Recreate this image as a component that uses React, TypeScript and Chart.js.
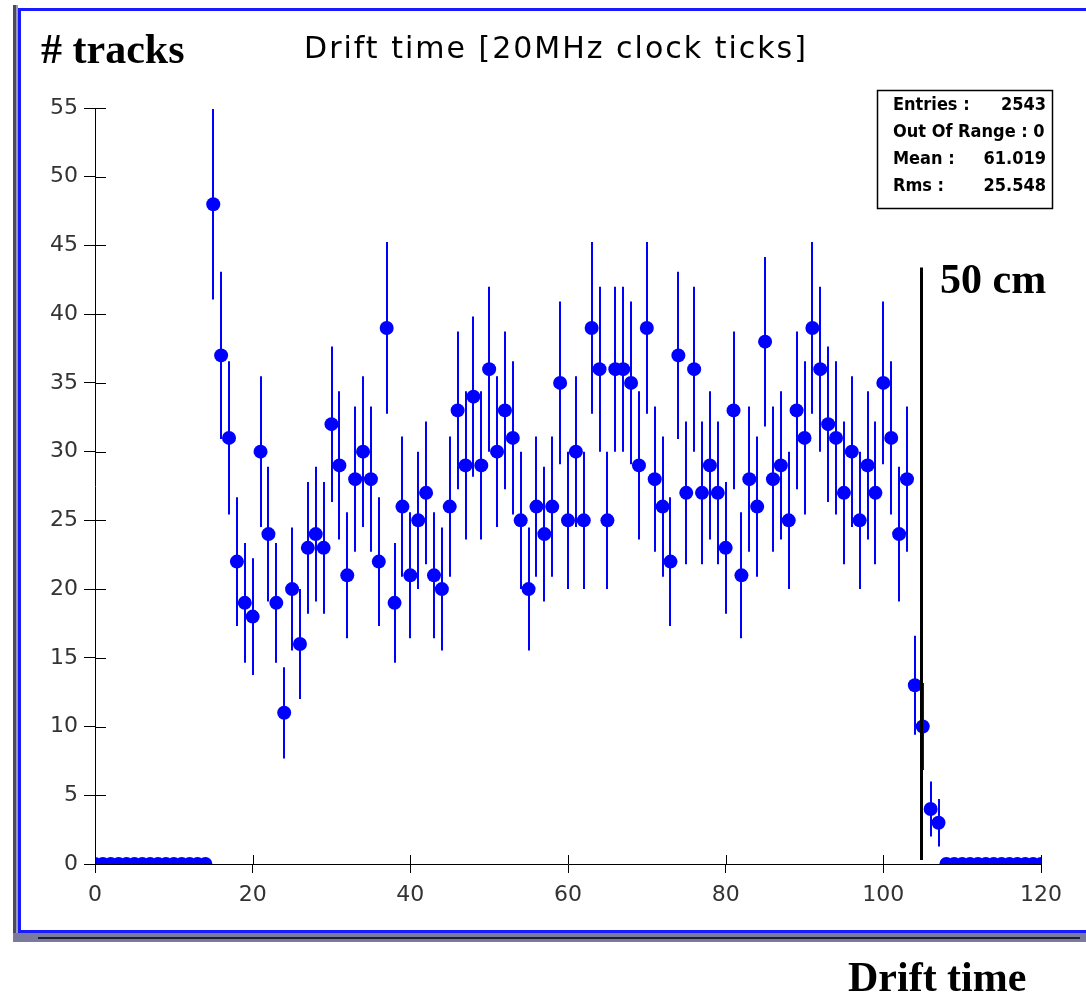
import React, { useEffect, useRef } from "react";
import { Chart, registerables } from "chart.js";

Chart.register(...registerables);

// ---- data -------------------------------------------------------------
const X_MIN = 0;
const X_MAX = 120;
const X_STEP = 20;
const Y_MIN = 0;
const Y_MAX = 55;
const Y_STEP = 5;

// bin positions (drift time, 20 MHz clock ticks)
const BINS: number[] = Array.from({ length: 121 }, (_, i) => i);

// number of tracks in each bin (bins 0..120)
const COUNTS: number[] = [
  0, 0, 0, 0, 0, 0, 0, 0, 0, 0, 0, 0, 0, 0, 0,
  48, 37, 31, 22, 19, 18, 30, 24, 19, 11,
  20, 16, 23, 24, 23, 32, 29, 21, 28, 30,
  28, 22, 39, 19, 26, 21, 25, 27, 21, 20,
  26, 33, 29, 34, 29, 36, 30, 33, 31, 25,
  20, 26, 24, 26, 35, 25, 30, 25, 39, 36,
  25, 36, 36, 35, 29, 39, 28, 26, 22, 37,
  27, 36, 27, 29, 27, 23, 33, 21, 28, 26,
  38, 28, 29, 25, 33, 31, 39, 36, 32, 31,
  27, 30, 25, 29, 27, 35, 31, 24, 28,
  13, 10, 4, 3,
  0, 0, 0, 0, 0, 0, 0, 0, 0, 0, 0, 0, 0,
];

const TITLE = "Drift time [20MHz clock ticks]";
const Y_LABEL = "# tracks";
const X_LABEL = "Drift time";
const MARKER_LABEL = "50 cm";
const MARKER_X = 104.8;
const MARKER_TOP = 43.4;
const MARKER_BOTTOM = 0.3;

const STATS_LABELS = ["Entries :", "Out Of Range : 0", "Mean :", "Rms :"];
const STATS_VALUES = ["2543", "", "61.019", "25.548"];

// ---- styles -----------------------------------------------------------
const BLUE = "#0000ff";
const TICK_FONT = { family: '"DejaVu Sans", Verdana, sans-serif', size: 22, weight: "normal" as const };
const SERIF_BOLD = 'bold 42px "Liberation Serif", "Times New Roman", serif';

const decorPlugin = {
  id: "decor",
  beforeDraw(chart: any) {
    const ctx = chart.ctx;
    ctx.save();
    ctx.fillStyle = "#ffffff";
    ctx.fillRect(0, 0, chart.width, chart.height);
    ctx.restore();
  },
  beforeDatasetsDraw(chart: any) {
    const ctx = chart.ctx;
    const xs = chart.scales.x;
    const ys = chart.scales.y;
    const a = chart.chartArea;
    ctx.save();
    ctx.beginPath();
    ctx.rect(a.left, a.top, a.right - a.left, a.bottom - a.top);
    ctx.clip();
    ctx.strokeStyle = BLUE;
    ctx.lineWidth = 2;
    BINS.forEach((b, i) => {
      const c = COUNTS[i];
      if (c <= 0) return;
      const e = Math.sqrt(c);
      const x = Math.round(xs.getPixelForValue(b));
      ctx.beginPath();
      ctx.moveTo(x, ys.getPixelForValue(c - e));
      ctx.lineTo(x, ys.getPixelForValue(c + e));
      ctx.stroke();
    });
    ctx.restore();
  },
  afterDatasetsDraw(chart: any) {
    const ctx = chart.ctx;
    const xs = chart.scales.x;
    const ys = chart.scales.y;
    ctx.save();
    // vertical marker line
    ctx.strokeStyle = "#000";
    ctx.lineWidth = 3;
    const mx = Math.round(xs.getPixelForValue(MARKER_X)) + 0.5;
    ctx.beginPath();
    ctx.moveTo(mx, ys.getPixelForValue(MARKER_BOTTOM));
    ctx.lineTo(mx, ys.getPixelForValue(MARKER_TOP));
    ctx.stroke();

    // inner halves of the axis ticks
    ctx.strokeStyle = "#000";
    ctx.lineWidth = 1;
    const a = chart.chartArea;
    ys.ticks.forEach((t: any) => {
      const y = Math.round(ys.getPixelForValue(t.value)) + 0.5;
      ctx.beginPath();
      ctx.moveTo(a.left, y);
      ctx.lineTo(a.left + 11, y);
      ctx.stroke();
    });
    xs.ticks.forEach((t: any) => {
      const x = Math.round(xs.getPixelForValue(t.value)) + 0.5;
      ctx.beginPath();
      ctx.moveTo(x, a.bottom);
      ctx.lineTo(x, a.bottom - 9);
      ctx.stroke();
    });
    ctx.restore();
  },
  afterDraw(chart: any) {
    const ctx = chart.ctx;
    const W = chart.width;
    ctx.save();

    // window frame
    ctx.fillStyle = "#4a4a5c";
    ctx.fillRect(13, 5, 3, 937);
    ctx.fillStyle = "#9a9ab4";
    ctx.fillRect(16, 5, 2, 937);
    ctx.fillStyle = "#1a1aff";
    ctx.fillRect(18, 8, 3, 925);
    ctx.fillRect(18, 8, W - 18, 3);
    ctx.fillRect(18, 930, W - 18, 3);
    ctx.fillStyle = "#7a7a9e";
    ctx.fillRect(13, 933, W - 13, 9);
    ctx.fillStyle = "#1e1e2e";
    ctx.fillRect(38, 937, W - 44, 2);

    // title
    ctx.fillStyle = "#000";
    ctx.font = '30px "DejaVu Sans", Verdana, sans-serif';
    (ctx as any).letterSpacing = "2px";
    ctx.textAlign = "center";
    ctx.textBaseline = "alphabetic";
    ctx.fillText(TITLE, 556, 58);
    (ctx as any).letterSpacing = "0px";

    // big serif labels
    ctx.textAlign = "left";
    ctx.font = SERIF_BOLD;
    ctx.fillText(Y_LABEL, 41, 63);
    ctx.fillText(MARKER_LABEL, 940, 293);
    ctx.fillText(X_LABEL, 848, 991);

    // stats box
    ctx.strokeStyle = "#000";
    ctx.lineWidth = 1.5;
    ctx.strokeRect(877.5, 90.5, 175, 118);
    ctx.font = 'bold 18px "DejaVu Sans Condensed", "Liberation Sans Narrow", "Arial Narrow", sans-serif';
    const baselines = [110, 137, 164, 191];
    STATS_LABELS.forEach((lab, i) => {
      ctx.textAlign = "left";
      const maxW = STATS_VALUES[i] ? 80 : 153;
      ctx.fillText(lab, 893, baselines[i], maxW);
      if (STATS_VALUES[i]) {
        ctx.textAlign = "right";
        ctx.fillText(STATS_VALUES[i], 1046, baselines[i]);
      }
    });
    ctx.restore();
  },
};

export default function App() {
  const ref = useRef<HTMLCanvasElement | null>(null);

  useEffect(() => {
    if (!ref.current) return;
    const chart = new Chart(ref.current, {
      type: "scatter",
      data: {
        datasets: [
          {
            data: BINS.map((b, i) => ({ x: b, y: COUNTS[i] })),
            pointRadius: 7,
            pointHoverRadius: 7,
            pointStyle: "circle",
            backgroundColor: BLUE,
            borderWidth: 0,
            showLine: false,
            clip: 0,
          } as any,
        ],
      },
      options: {
        responsive: false,
        animation: false,
        devicePixelRatio: 1,
        events: [],
        layout: { padding: { left: 0, top: 108, right: 45, bottom: 0 } },
        plugins: {
          legend: { display: false },
          tooltip: { enabled: false },
          title: { display: false },
        },
        scales: {
          x: {
            type: "linear",
            min: X_MIN,
            max: X_MAX,
            afterFit: (s: any) => {
              s.height = 129;
            },
            grid: {
              display: true,
              drawOnChartArea: false,
              drawTicks: true,
              tickLength: 9,
              color: "#000",
              lineWidth: 1,
            },
            border: { display: true, color: "#000", width: 1 },
            ticks: {
              stepSize: X_STEP,
              padding: 9,
              maxRotation: 0,
              autoSkip: false,
              color: "#333",
              font: TICK_FONT,
            },
          },
          y: {
            type: "linear",
            min: Y_MIN,
            max: Y_MAX,
            afterFit: (s: any) => {
              s.width = 95;
            },
            grid: {
              display: true,
              drawOnChartArea: false,
              drawTicks: true,
              tickLength: 11,
              color: "#000",
              lineWidth: 1,
            },
            border: { display: true, color: "#000", width: 1 },
            ticks: {
              stepSize: Y_STEP,
              padding: 6,
              autoSkip: false,
              color: "#333",
              font: TICK_FONT,
            },
          },
        },
      },
      plugins: [decorPlugin],
    });
    return () => chart.destroy();
  }, []);

  return (
    <div style={{ position: "absolute", left: 0, top: 0, width: 1086, height: 993, background: "#fff" }}>
      <canvas ref={ref} width={1086} height={993} style={{ display: "block" }} />
    </div>
  );
}
